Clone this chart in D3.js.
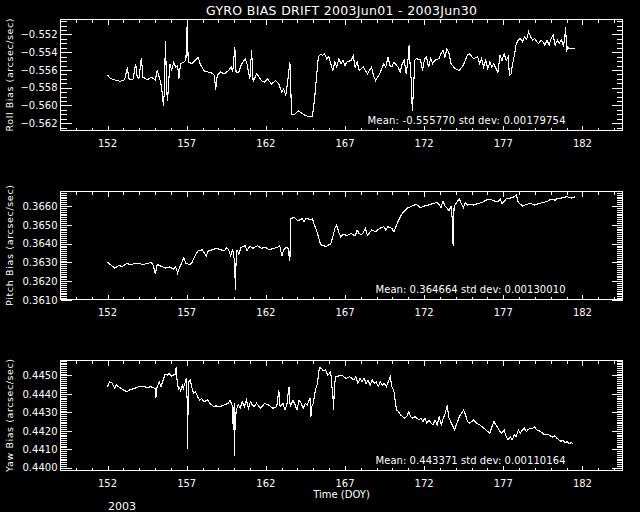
<!DOCTYPE html>
<html>
<head>
<meta charset="utf-8">
<script src="https://cdn.jsdelivr.net/npm/d3@7"></script>
<style>
html,body{margin:0;padding:0;background:#000;}
svg{display:block;}
text{font-family:"DejaVu Sans",sans-serif;fill:#fff;}
</style>
</head>
<body>
<svg id="chart" width="640" height="512"></svg>
<script>
// ---------------- DATA ----------------
const titleText = "GYRO BIAS DRIFT 2003Jun01 - 2003Jun30";
const xLabel = "Time (DOY)";
const yearLabel = "2003";
const xTickValues = [152, 157, 162, 167, 172, 177, 182];

const rollDays = [152.00,152.13,152.31,152.57,152.82,153.08,153.26,153.34,153.60,153.78,153.86,153.98,154.14,154.24,154.50,154.76,155.02,155.14,155.27,155.40,155.48,155.53,155.58,155.66,155.74,155.79,155.87,155.94,156.05,156.18,156.30,156.43,156.51,156.61,156.82,156.95,157.03,157.10,157.34,157.54,157.72,157.85,158.11,158.37,158.62,158.75,158.83,158.93,159.14,159.40,159.65,159.81,159.91,160.04,160.12,160.30,160.43,160.69,160.81,160.99,161.10,161.20,161.41,161.59,161.72,161.92,162.10,162.36,162.62,162.82,163.01,163.13,163.26,163.39,163.52,163.57,163.62,163.78,164.04,164.29,164.55,164.81,164.94,165.07,165.20,165.32,165.45,165.58,165.71,165.84,165.97,166.10,166.23,166.36,166.48,166.61,166.74,166.87,167.00,167.13,167.39,167.52,167.64,167.77,167.90,168.16,168.42,168.68,168.80,168.93,169.19,169.45,169.58,169.71,169.84,169.96,170.09,170.35,170.48,170.61,170.74,170.87,170.99,171.05,171.12,171.20,171.25,171.33,171.41,171.51,171.77,171.90,172.03,172.15,172.28,172.41,172.54,172.67,172.93,173.06,173.19,173.31,173.44,173.57,173.70,173.96,174.22,174.47,174.60,174.73,174.86,175.12,175.38,175.51,175.63,175.76,175.89,176.02,176.15,176.28,176.41,176.54,176.66,176.79,176.92,177.05,177.18,177.31,177.39,177.49,177.57,177.70,177.82,177.95,178.08,178.21,178.34,178.47,178.60,178.73,178.86,178.99,179.11,179.24,179.37,179.50,179.63,179.76,179.89,180.02,180.15,180.28,180.41,180.53,180.66,180.79,180.87,180.94,181.00,181.05,181.18,181.30,181.43,181.56];
const rollValues = [-0.55651,-0.55689,-0.55704,-0.55719,-0.55727,-0.55711,-0.55567,-0.55700,-0.55711,-0.55530,-0.55662,-0.55700,-0.55461,-0.55681,-0.55711,-0.55681,-0.55711,-0.55605,-0.55681,-0.55776,-0.55908,-0.56003,-0.55870,-0.55272,-0.55833,-0.55946,-0.55719,-0.55530,-0.55605,-0.55511,-0.55567,-0.55548,-0.55700,-0.55530,-0.55511,-0.55492,-0.55083,-0.55511,-0.55530,-0.55492,-0.55454,-0.55530,-0.55613,-0.55624,-0.55636,-0.55662,-0.55825,-0.55662,-0.55624,-0.55643,-0.55605,-0.55567,-0.55624,-0.55340,-0.55624,-0.55624,-0.55548,-0.55473,-0.55530,-0.55700,-0.55378,-0.55738,-0.55643,-0.55681,-0.55719,-0.55738,-0.55700,-0.55757,-0.55719,-0.55757,-0.55852,-0.55814,-0.55889,-0.55719,-0.55511,-0.55738,-0.56098,-0.56105,-0.56060,-0.56090,-0.56117,-0.56128,-0.56128,-0.55946,-0.55681,-0.55454,-0.55423,-0.55435,-0.55416,-0.55473,-0.55446,-0.55530,-0.55605,-0.55511,-0.55567,-0.55473,-0.55530,-0.55492,-0.55548,-0.55511,-0.55492,-0.55435,-0.55567,-0.55511,-0.55605,-0.55567,-0.55643,-0.55567,-0.55662,-0.55719,-0.55643,-0.55530,-0.55567,-0.55454,-0.55548,-0.55567,-0.55511,-0.55567,-0.55624,-0.55530,-0.55492,-0.55643,-0.55473,-0.55321,-0.55567,-0.55757,-0.56060,-0.55814,-0.55492,-0.55473,-0.55484,-0.55605,-0.55473,-0.55454,-0.55567,-0.55473,-0.55530,-0.55492,-0.55473,-0.55416,-0.55378,-0.55454,-0.55359,-0.55416,-0.55530,-0.55586,-0.55605,-0.55548,-0.55492,-0.55435,-0.55416,-0.55473,-0.55454,-0.55530,-0.55473,-0.55567,-0.55492,-0.55586,-0.55511,-0.55567,-0.55530,-0.55586,-0.55624,-0.55435,-0.55492,-0.55416,-0.55492,-0.55454,-0.55662,-0.55643,-0.55548,-0.55435,-0.55302,-0.55264,-0.55245,-0.55283,-0.55227,-0.55257,-0.55170,-0.55227,-0.55264,-0.55245,-0.55283,-0.55302,-0.55264,-0.55283,-0.55321,-0.55264,-0.55321,-0.55245,-0.55208,-0.55321,-0.55264,-0.55302,-0.55257,-0.55321,-0.55264,-0.55113,-0.55397,-0.55340,-0.55359,-0.55359,-0.55359,-0.55359];

const pitchDays = [152.00,152.18,152.44,152.70,152.95,153.21,153.47,153.73,153.98,154.24,154.50,154.76,154.89,155.02,155.14,155.40,155.66,155.92,156.18,156.30,156.43,156.56,156.69,156.82,156.95,157.21,157.34,157.59,157.72,157.98,158.24,158.37,158.62,158.88,159.14,159.40,159.53,159.65,159.78,159.91,160.04,160.07,160.12,160.17,160.30,160.43,160.69,160.81,160.99,161.20,161.46,161.72,161.97,162.23,162.49,162.75,162.88,163.01,163.13,163.26,163.39,163.52,163.57,163.78,164.04,164.29,164.42,164.55,164.81,164.94,165.07,165.20,165.32,165.45,165.58,165.84,166.10,166.23,166.36,166.48,166.61,166.74,166.87,167.13,167.39,167.64,167.77,167.90,168.03,168.16,168.29,168.42,168.68,168.93,169.19,169.45,169.58,169.71,169.96,170.09,170.22,170.35,170.48,170.61,170.74,170.99,171.25,171.51,171.77,172.03,172.28,172.54,172.80,172.93,173.06,173.19,173.31,173.44,173.57,173.70,173.79,173.83,173.89,173.97,174.10,174.23,174.36,174.48,174.61,174.74,174.87,175.12,175.38,175.64,175.90,176.15,176.41,176.67,176.80,176.92,177.18,177.44,177.70,177.82,177.95,178.08,178.21,178.47,178.73,178.99,179.24,179.50,179.76,180.02,180.28,180.41,180.53,180.79,181.05,181.30,181.56];
const pitchValues = [0.36301,0.36289,0.36270,0.36283,0.36279,0.36294,0.36289,0.36294,0.36294,0.36289,0.36294,0.36301,0.36283,0.36239,0.36289,0.36279,0.36270,0.36276,0.36265,0.36279,0.36243,0.36276,0.36298,0.36325,0.36294,0.36289,0.36301,0.36344,0.36362,0.36367,0.36334,0.36362,0.36367,0.36375,0.36367,0.36362,0.36380,0.36367,0.36334,0.36371,0.36294,0.36151,0.36298,0.36367,0.36344,0.36380,0.36389,0.36362,0.36386,0.36375,0.36389,0.36375,0.36380,0.36367,0.36375,0.36380,0.36389,0.36334,0.36367,0.36380,0.36380,0.36307,0.36532,0.36540,0.36521,0.36532,0.36518,0.36536,0.36527,0.36532,0.36499,0.36472,0.36435,0.36399,0.36389,0.36386,0.36399,0.36435,0.36481,0.36499,0.36459,0.36435,0.36448,0.36444,0.36453,0.36441,0.36472,0.36453,0.36448,0.36459,0.36481,0.36444,0.36472,0.36463,0.36481,0.36490,0.36472,0.36490,0.36481,0.36463,0.36490,0.36518,0.36540,0.36558,0.36573,0.36591,0.36600,0.36609,0.36591,0.36600,0.36605,0.36613,0.36618,0.36609,0.36591,0.36627,0.36600,0.36591,0.36573,0.36600,0.36518,0.36389,0.36591,0.36609,0.36624,0.36637,0.36609,0.36591,0.36618,0.36605,0.36609,0.36605,0.36613,0.36618,0.36631,0.36637,0.36627,0.36624,0.36637,0.36613,0.36637,0.36642,0.36649,0.36660,0.36618,0.36609,0.36600,0.36609,0.36613,0.36605,0.36613,0.36618,0.36624,0.36637,0.36631,0.36642,0.36637,0.36646,0.36649,0.36642,0.36649];

const yawDays = [152.00,152.13,152.31,152.44,152.56,152.69,152.95,153.21,153.46,153.72,153.97,154.23,154.49,154.74,155.00,155.05,155.13,155.26,155.38,155.51,155.64,155.77,155.90,156.03,156.15,156.28,156.33,156.38,156.49,156.54,156.62,156.72,156.79,156.92,156.97,157.03,157.05,157.08,157.13,157.23,157.31,157.44,157.56,157.69,157.82,157.95,158.08,158.33,158.46,158.59,158.72,158.85,159.10,159.36,159.62,159.74,159.87,159.95,160.00,160.03,160.05,160.13,160.26,160.38,160.51,160.64,160.77,160.90,161.03,161.15,161.28,161.41,161.67,161.92,162.18,162.44,162.69,162.82,162.90,163.08,163.21,163.33,163.46,163.54,163.72,163.85,163.97,164.10,164.23,164.36,164.49,164.62,164.74,164.79,164.85,164.90,165.00,165.13,165.26,165.38,165.51,165.64,165.77,165.90,166.03,166.10,166.15,166.23,166.28,166.33,166.41,166.54,166.79,167.05,167.31,167.56,167.69,167.82,167.95,168.08,168.21,168.33,168.46,168.59,168.72,168.85,168.97,169.10,169.23,169.36,169.49,169.62,169.74,169.87,169.95,170.08,170.18,170.26,170.38,170.51,170.64,170.77,170.90,171.03,171.15,171.28,171.41,171.67,171.79,171.92,172.05,172.18,172.31,172.44,172.56,172.69,172.82,172.95,173.08,173.21,173.33,173.46,173.54,173.67,173.77,173.92,174.03,174.23,174.36,174.49,174.62,174.74,174.87,175.00,175.13,175.26,175.51,175.77,176.03,176.15,176.28,176.41,176.54,176.67,176.79,176.92,177.05,177.18,177.31,177.44,177.56,177.69,177.82,177.95,178.08,178.21,178.33,178.46,178.59,178.85,178.97,179.10,179.36,179.62,179.87,180.13,180.26,180.38,180.51,180.64,180.77,180.90,181.03,181.15,181.28,181.41];
const yawValues = [0.44439,0.44466,0.44457,0.44430,0.44448,0.44439,0.44424,0.44412,0.44424,0.44430,0.44439,0.44442,0.44435,0.44439,0.44430,0.44376,0.44435,0.44466,0.44439,0.44475,0.44507,0.44502,0.44511,0.44496,0.44502,0.44507,0.44543,0.44484,0.44421,0.44439,0.44412,0.44448,0.44430,0.44466,0.44484,0.44367,0.44101,0.44277,0.44466,0.44475,0.44439,0.44403,0.44412,0.44385,0.44367,0.44376,0.44358,0.44367,0.44349,0.44340,0.44331,0.44335,0.44331,0.44340,0.44349,0.44367,0.44340,0.44205,0.44349,0.44061,0.44205,0.44313,0.44340,0.44322,0.44358,0.44331,0.44367,0.44322,0.44358,0.44340,0.44331,0.44349,0.44322,0.44349,0.44340,0.44322,0.44331,0.44421,0.44331,0.44349,0.44313,0.44340,0.44439,0.44331,0.44367,0.44340,0.44313,0.44367,0.44349,0.44322,0.44349,0.44340,0.44367,0.44376,0.44277,0.44331,0.44349,0.44421,0.44457,0.44543,0.44538,0.44525,0.44532,0.44502,0.44511,0.44525,0.44457,0.44403,0.44313,0.44442,0.44493,0.44496,0.44502,0.44484,0.44493,0.44475,0.44493,0.44457,0.44484,0.44466,0.44484,0.44457,0.44475,0.44448,0.44475,0.44457,0.44466,0.44439,0.44466,0.44448,0.44457,0.44439,0.44466,0.44493,0.44439,0.44421,0.44358,0.44313,0.44304,0.44286,0.44277,0.44268,0.44277,0.44304,0.44277,0.44268,0.44277,0.44259,0.44268,0.44250,0.44268,0.44241,0.44259,0.44241,0.44232,0.44259,0.44232,0.44277,0.44232,0.44268,0.44295,0.44340,0.44277,0.44250,0.44232,0.44205,0.44232,0.44277,0.44295,0.44313,0.44286,0.44250,0.44241,0.44250,0.44259,0.44245,0.44232,0.44214,0.44196,0.44187,0.44223,0.44250,0.44232,0.44214,0.44196,0.44187,0.44205,0.44169,0.44151,0.44169,0.44151,0.44178,0.44169,0.44205,0.44187,0.44205,0.44214,0.44196,0.44209,0.44214,0.44223,0.44205,0.44196,0.44178,0.44178,0.44165,0.44173,0.44160,0.44151,0.44142,0.44151,0.44133,0.44142,0.44129,0.44137,0.44129];

const panelNames = ["Roll Bias (arcsec/sec)", "Pitch Bias (arcsec/sec)", "Yaw Bias (arcsec/sec)"];
const meanTexts = ["Mean: -0.555770 std dev: 0.00179754", "Mean: 0.364664 std dev: 0.00130010", "Mean: 0.443371 std dev: 0.00110164"];
const yDomains = [[-0.56282, -0.55031], [0.36103, 0.36677], [0.43985, 0.44581]];
const yMajorTicks = [
  [-0.562, -0.560, -0.558, -0.556, -0.554, -0.552],
  [0.3610, 0.3620, 0.3630, 0.3640, 0.3650, 0.3660],
  [0.4400, 0.4410, 0.4420, 0.4430, 0.4440, 0.4450]
];
const yTickFormats = [".3f", ".4f", ".4f"];
const yMinorSteps = [0.0005, 0.0001, 0.0001];

// ---------------- LAYOUT ----------------
const svg = d3.select("#chart");
svg.append("rect").attr("width", 640).attr("height", 512).attr("fill", "#000");

const xLeft = 60.5, xRight = 622.5;
const panels = [
  {top: 19.5, bottom: 130.5, days: rollDays, vals: rollValues, nameLen: 113, meanLen: 198},
  {top: 191.5, bottom: 299.5, days: pitchDays, vals: pitchValues, nameLen: 121, meanLen: 190},
  {top: 360.5, bottom: 470.5, days: yawDays, vals: yawValues, nameLen: 113, meanLen: 190}
];

const x = d3.scaleLinear().domain([149.03, 184.53]).range([xLeft, xRight]);
const xMinor = d3.range(150, 185, 1);

svg.append("text")
  .attr("x", (xLeft + xRight) / 2).attr("y", 15)
  .attr("text-anchor", "middle").attr("font-size", 12.5)
  .attr("textLength", 271).attr("lengthAdjust", "spacing")
  .text(titleText);

panels.forEach((p, i) => {
  const y = d3.scaleLinear().domain(yDomains[i]).range([p.bottom, p.top]);
  const g = svg.append("g");
  const fmt = d3.format(yTickFormats[i]);

  const [d0, d1] = yDomains[i];
  const step = yMinorSteps[i];
  const minorY = d3.range(Math.ceil(d0 / step - 1e-6), Math.floor(d1 / step + 1e-6) + 1).map(k => +(k * step).toFixed(6));

  const axL = g.append("g").attr("transform", `translate(${xLeft},0)`)
    .call(d3.axisLeft(y).tickValues(minorY).tickSize(-6).tickFormat(""));
  const axLM = g.append("g").attr("transform", `translate(${xLeft},0)`)
    .call(d3.axisLeft(y).tickValues(yMajorTicks[i]).tickSize(-11).tickPadding(3).tickFormat(d => fmt(d)));
  const axR = g.append("g").attr("transform", `translate(${xRight},0)`)
    .call(d3.axisRight(y).tickValues(minorY).tickSize(-6).tickFormat(""));
  const axRM = g.append("g").attr("transform", `translate(${xRight},0)`)
    .call(d3.axisRight(y).tickValues(yMajorTicks[i]).tickSize(-11).tickFormat(""));

  const axB = g.append("g").attr("transform", `translate(0,${p.bottom})`)
    .call(d3.axisBottom(x).tickValues(xMinor).tickSize(-3).tickFormat(""));
  const axBM = g.append("g").attr("transform", `translate(0,${p.bottom})`)
    .call(d3.axisBottom(x).tickValues(xTickValues).tickSize(-5).tickFormat(""));
  const axT = g.append("g").attr("transform", `translate(0,${p.top})`)
    .call(d3.axisTop(x).tickValues(xMinor).tickSize(-3).tickFormat(""));
  const axTM = g.append("g").attr("transform", `translate(0,${p.top})`)
    .call(d3.axisTop(x).tickValues(xTickValues).tickSize(-5).tickFormat(""));

  [axL, axLM, axR, axRM, axB, axBM, axT, axTM].forEach(a => {
    a.select(".domain").remove();
    a.selectAll("line").attr("stroke", "#fff").attr("stroke-width", 1)
      .attr("shape-rendering", "crispEdges");
    a.selectAll("text").attr("fill", "#fff").attr("font-size", 10)
      .attr("font-family", "DejaVu Sans, sans-serif");
  });

  g.selectAll("text.xl").data(xTickValues).enter().append("text")
    .attr("class", "xl")
    .attr("x", d => x(d)).attr("y", p.bottom + 16)
    .attr("text-anchor", "middle").attr("font-size", 10)
    .text(d => d);

  g.append("rect")
    .attr("x", xLeft).attr("y", p.top)
    .attr("width", xRight - xLeft).attr("height", p.bottom - p.top)
    .attr("fill", "none").attr("stroke", "#fff").attr("stroke-width", 1)
    .attr("shape-rendering", "crispEdges");

  const pts = p.days.map((d, k) => [d, p.vals[k]]);
  g.append("path").datum(pts)
    .attr("d", d3.line().x(d => x(d[0])).y(d => y(d[1])))
    .attr("fill", "none").attr("stroke", "#fff").attr("stroke-width", 1.1)
    .attr("shape-rendering", "optimizeSpeed");

  const cy = (p.top + p.bottom) / 2;
  g.append("text")
    .attr("transform", `translate(12.5,${cy}) rotate(-90)`)
    .attr("text-anchor", "middle").attr("font-size", 9.5)
    .attr("textLength", p.nameLen).attr("lengthAdjust", "spacing")
    .text(panelNames[i]);

  g.append("text")
    .attr("x", 565.5).attr("y", p.bottom - 7)
    .attr("text-anchor", "end").attr("font-size", 10)
    .attr("textLength", p.meanLen).attr("lengthAdjust", "spacing")
    .text(meanTexts[i]);
});

svg.append("text")
  .attr("x", (xLeft + xRight) / 2).attr("y", 498)
  .attr("text-anchor", "middle").attr("font-size", 10)
  .text(xLabel);

svg.append("text")
  .attr("x", 108).attr("y", 510)
  .attr("font-size", 11)
  .text(yearLabel);
</script>
</body>
</html>
